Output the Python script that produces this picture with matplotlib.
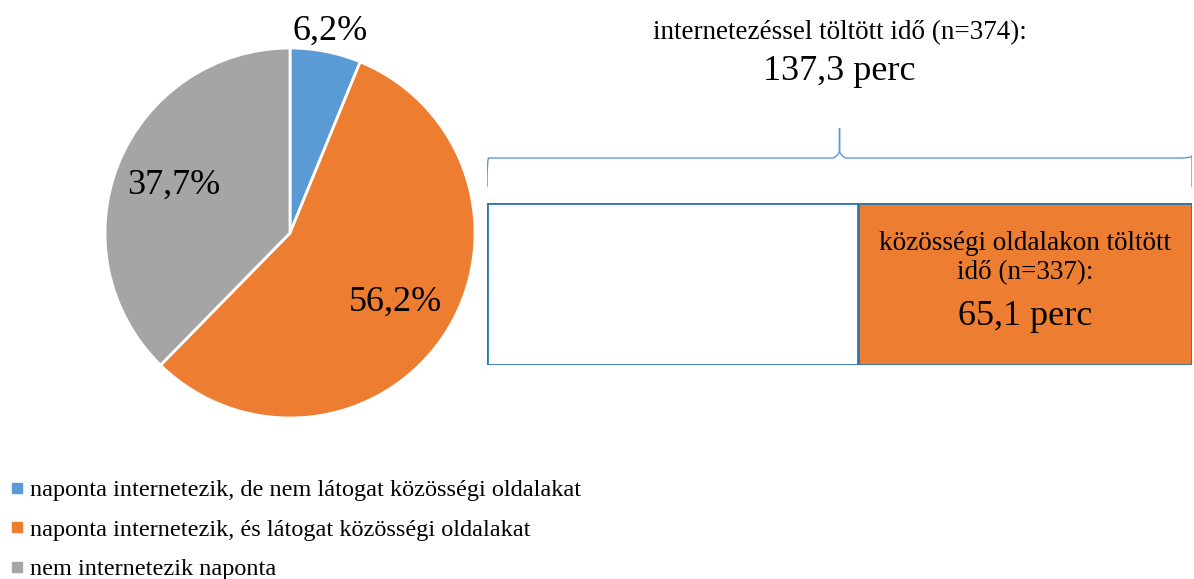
import matplotlib.pyplot as plt
import numpy as np
from matplotlib.lines import Line2D
from matplotlib.path import Path
from matplotlib.patches import PathPatch

plt.rcParams['font.family'] = ['Liberation Serif', 'DejaVu Serif']

# megoszlás (%)
categories = ['naponta internetezik, de nem látogat közösségi oldalakat',
              'naponta internetezik, és látogat közösségi oldalakat',
              'nem internetezik naponta']
shares = [6.2, 56.2, 37.7]
colors = ['#5B9BD5', '#ED7D31', '#A5A5A5']

# átlagos napi idő (perc)
total_minutes = 137.3
total_n = 374
social_minutes = 65.1
social_n = 337

W, H = 1194, 579
fig = plt.figure(figsize=(W / 100, H / 100), dpi=100)

def px_axes(x0, y0, x1, y1):
    # axes megadása pixelben (bal felső sarokból mérve)
    return fig.add_axes([x0 / W, 1 - y1 / H, (x1 - x0) / W, (y1 - y0) / H])

def fmt(v, suffix):
    return f'{v:.1f}{suffix}'.replace('.', ',')

# kördiagram
ax1 = px_axes(105, 48, 475, 418)
wedges, texts = ax1.pie(shares, colors=colors, startangle=90, counterclock=False,
                        wedgeprops=dict(edgecolor='white', linewidth=2))
ax1.set_aspect('equal')
ax1.set_xlim(-1, 1)
ax1.set_ylim(-1, 1)
ax1.axis('off')

label_r = [1.11, 0.68, 0.68]
for w, s, r in zip(wedges, shares, label_r):
    mid = np.deg2rad((w.theta1 + w.theta2) / 2)
    ax1.text(r * np.cos(mid), r * np.sin(mid), fmt(s, '%'),
             ha='center', va='center', fontsize=26, clip_on=False)

# sáv: teljes internetezési idő és ebből a közösségi oldalak
ax2 = px_axes(487, 203, 1192, 365)
ax2.barh([0], [total_minutes], height=1, color='white', edgecolor='#2E75B6', linewidth=2)
ax2.barh([0], [social_minutes], left=total_minutes - social_minutes, height=1,
         color='#ED7D31', edgecolor='#2E75B6', linewidth=2)
ax2.set_xlim(0, total_minutes)
ax2.set_ylim(-0.5, 0.5)
ax2.axis('off')
sx = total_minutes - social_minutes / 2
ax2.text(sx, 0.25, 'közösségi oldalakon töltött', ha='center', va='center', fontsize=19.5)
ax2.text(sx, 0.07, f'idő (n={social_n}):', ha='center', va='center', fontsize=19.5)
ax2.text(sx, -0.2, fmt(social_minutes, ' perc'), ha='center', va='center', fontsize=26)

# kapcsos zárójel és felirat
ax3 = px_axes(487, 0, 1192, 200)
ax3.set_xlim(0, 1)
ax3.set_ylim(200, 0)
ax3.axis('off')
y_end, y_mid, y_tip = 187, 158, 128
verts = [(0, y_end), (0, y_mid - 2), (0.003, y_mid), (0.015, y_mid),
         (0.49, y_mid), (0.495, y_mid), (0.5, y_mid - 6), (0.5, y_tip),
         (0.5, y_tip), (0.5, y_mid - 6), (0.505, y_mid), (0.51, y_mid),
         (0.985, y_mid), (0.997, y_mid), (1, y_mid - 2), (1, y_end)]
codes = [Path.MOVETO, Path.CURVE3, Path.CURVE3, Path.LINETO,
         Path.LINETO, Path.CURVE3, Path.CURVE3, Path.LINETO,
         Path.MOVETO, Path.LINETO, Path.CURVE3, Path.CURVE3,
         Path.LINETO, Path.CURVE3, Path.CURVE3, Path.LINETO]
ax3.add_patch(PathPatch(Path(verts, codes), fill=False, edgecolor='#5B9BD5', linewidth=1))
ax3.text(0.5, 33, f'internetezéssel töltött idő (n={total_n}):', ha='center', va='center',
         fontsize=19.5)
ax3.text(0.5, 72, fmt(total_minutes, ' perc'), ha='center', va='center', fontsize=26)

# jelmagyarázat
handles = [Line2D([], [], marker='s', linestyle='none', markersize=6.5, color=c) for c in colors]
fig.legend(handles, categories, loc='upper left', bbox_to_anchor=(11 / W, 1 - 479 / H),
           frameon=False, fontsize=17.5, handlelength=0.5, handletextpad=0.3,
           labelspacing=0.72, borderpad=0, borderaxespad=0)

fig.savefig('out.png', dpi=100)
